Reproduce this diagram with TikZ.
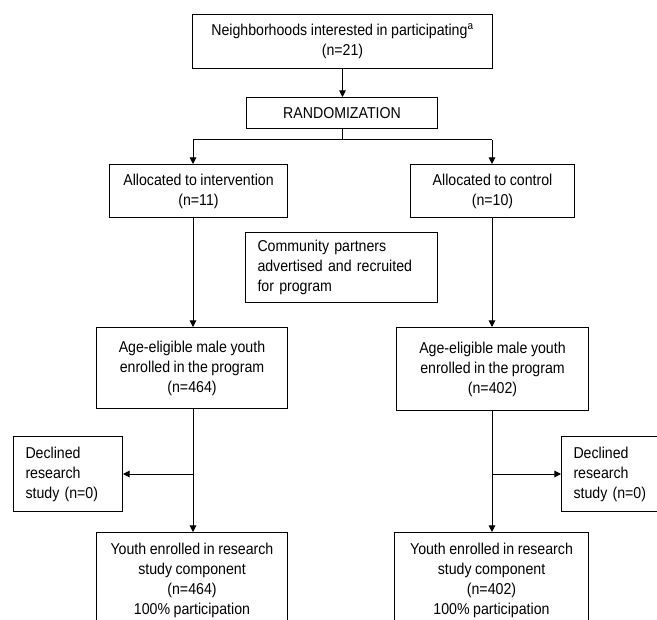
\documentclass[tikz,border=0pt]{standalone}
\usepackage{fontspec}
\setmainfont{Liberation Sans}[FakeStretch=0.9, WordSpace=0.9]
\usetikzlibrary{arrows.meta}
\begin{document}
\begin{tikzpicture}[x=0.75pt,y=-0.75pt,
  box/.style={draw, line width=0.75pt, inner sep=0pt, anchor=north west,
    font=\fontsize{11.8}{15}\selectfont, align=center},
  lbox/.style={box, align=left, inner xsep=9pt},
  ln/.style={line width=0.75pt},
  arr/.style={ln, -{Triangle[length=5pt,width=5pt]}}]
\useasboundingbox (0,0) rectangle (657,620);
\clip (0,0) rectangle (657,620);
\fill[white] (0,0) rectangle (657,620);

\node[box, minimum width=225pt, minimum height=40.5pt] (top) at (192,14)
  {Neighborhoods interested in participating\textsuperscript{a}\\(n=21)};
\node[box, minimum width=143.25pt, minimum height=23.25pt] (rand) at (246,97)
  {RANDOMIZATION};
\node[box, minimum width=133.5pt, minimum height=39.75pt] (allocI) at (109,164)
  {Allocated to intervention\\(n=11)};
\node[box, minimum width=123pt, minimum height=39.75pt] (allocC) at (410,164)
  {Allocated to control\\(n=10)};
\node[lbox, minimum width=144pt, minimum height=52.5pt, text width=126pt] (comm) at (245,232)
  {Community partners\\advertised and recruited\\for program};
\node[box, minimum width=143.25pt, minimum height=60.75pt] (ageI) at (96,327)
  {Age-eligible male youth\\enrolled in the program\\(n=464)};
\node[box, minimum width=144pt, minimum height=62.25pt] (ageC) at (396,327)
  {Age-eligible male youth\\enrolled in the program\\(n=402)};
\node[lbox, minimum width=81.75pt, minimum height=56.25pt, text width=63.75pt] (declI) at (13,436)
  {Declined\\research\\study (n=0)};
\node[lbox, minimum width=81.75pt, minimum height=56.25pt, text width=63.75pt] (declC) at (561,436)
  {Declined\\research\\study (n=0)};
\node[box, minimum width=143.25pt, minimum height=72pt] (youthI) at (96,532)
  {Youth enrolled in research\\study component\\(n=464)\\100\% participation};
\node[box, minimum width=145.5pt, minimum height=72pt] (youthC) at (394,532)
  {Youth enrolled in research\\study component\\(n=402)\\100\% participation};

\coordinate (bl) at (193,140);
\coordinate (br) at (492,140);

\draw[arr] (top.south) -- (top.south |- rand.north);
\draw[ln] (rand.south) -- (rand.south |- bl);
\draw[ln] (bl) -- (br);
\draw[arr] (bl) -- (bl |- allocI.north);
\draw[arr] (br) -- (br |- allocC.north);
\draw[arr] (allocI.south -| bl) -- (ageI.north -| bl);
\draw[arr] (allocC.south -| br) -- (ageC.north -| br);
\draw[arr] (ageI.south -| bl) -- (youthI.north -| bl);
\draw[arr] (ageC.south -| br) -- (youthC.north -| br);
\draw[arr] (bl |- declI.east) -- (declI.east);
\draw[arr] (br |- declC.west) -- (declC.west);
\end{tikzpicture}
\end{document}
